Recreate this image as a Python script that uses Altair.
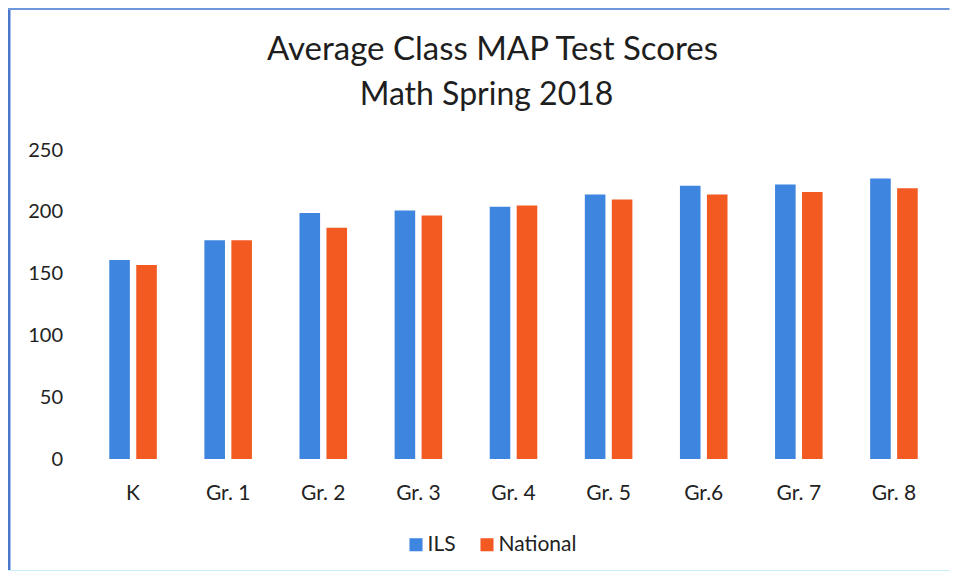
import altair as alt
import pandas as pd

grades = ["K", "Gr. 1", "Gr. 2", "Gr. 3", "Gr. 4", "Gr. 5", "Gr.6", "Gr. 7", "Gr. 8"]
ils = [161, 177, 199, 201, 204, 214, 221, 222, 227]
national = [157, 177, 187, 197, 205, 210, 214, 216, 219]
series = ["ILS", "National"]
colors = ["#3d85df", "#f25a22"]
title_lines = ["Average Class MAP Test Scores", "Math Spring 2018"]

rows = []
for g, a, b in zip(grades, ils, national):
    rows.append({"grade": g, "series": "ILS", "score": a})
    rows.append({"grade": g, "series": "National", "score": b})
df = pd.DataFrame(rows)

FONT = "Lato"
W, H = 856, 309
one = pd.DataFrame({"a": [0]})

bars = alt.Chart(df).mark_bar().encode(
    x=alt.X("grade:N", sort=grades, title=None,
            scale=alt.Scale(paddingInner=0.5, paddingOuter=0.25),
            axis=alt.Axis(labelAngle=0, domain=False, ticks=False, grid=False,
                          labelPadding=23, labelFontSize=21, labelFont=FONT,
                          labelColor="#222222")),
    xOffset=alt.XOffset("series:N", sort=series,
                        scale=alt.Scale(paddingInner=0.237, paddingOuter=0)),
    y=alt.Y("score:Q", title=None,
            scale=alt.Scale(domain=[0, 250], nice=False),
            axis=alt.Axis(values=[0, 50, 100, 150, 200, 250], domain=False, ticks=False,
                          grid=False, labelPadding=23, labelFontSize=20, labelFont=FONT,
                          labelColor="#222222")),
    color=alt.Color("series:N", sort=series,
                    scale=alt.Scale(domain=series, range=colors),
                    legend=alt.Legend(title=None, orient="none", direction="horizontal",
                                      legendX=320, legendY=384,
                                      symbolType="square", symbolSize=170,
                                      symbolStrokeWidth=0,
                                      labelFontSize=21, labelFont=FONT, labelColor="#222222",
                                      columnPadding=20, labelOffset=1)),
)

left_bar = alt.Chart(one).mark_rect(color="#4a78cc").encode(
    x=alt.value(-77.5), x2=alt.value(-75), y=alt.value(-142), y2=alt.value(422))
top_bar = alt.Chart(one).mark_rect(color="#6f98dc").encode(
    x=alt.value(-77.5), x2=alt.value(W + 8), y=alt.value(-142), y2=alt.value(-140))
bottom_bar = alt.Chart(one).mark_rect(color="#c6eef6").encode(
    x=alt.value(-77.5), x2=alt.value(W + 8), y=alt.value(420), y2=alt.value(422))

t1 = alt.Chart(one).mark_text(font=FONT, fontSize=33, color="#1e1e1e",
                              align="center", baseline="alphabetic").encode(
    x=alt.value(407), y=alt.value(-90), text=alt.value(title_lines[0]))
t2 = alt.Chart(one).mark_text(font=FONT, fontSize=32, color="#1e1e1e",
                              align="center", baseline="alphabetic").encode(
    x=alt.value(401), y=alt.value(-45), text=alt.value(title_lines[1]))

chart = alt.layer(left_bar, top_bar, bottom_bar, t1, t2, bars).properties(
    width=W, height=H,
    autosize=alt.AutoSizeParams(type="none"),
    padding={"left": 77.5, "top": 142, "right": 8, "bottom": 112},
).configure(background="white").configure_view(stroke=None)

chart.save("out.html", embed_options={"renderer": "svg", "actions": False})
